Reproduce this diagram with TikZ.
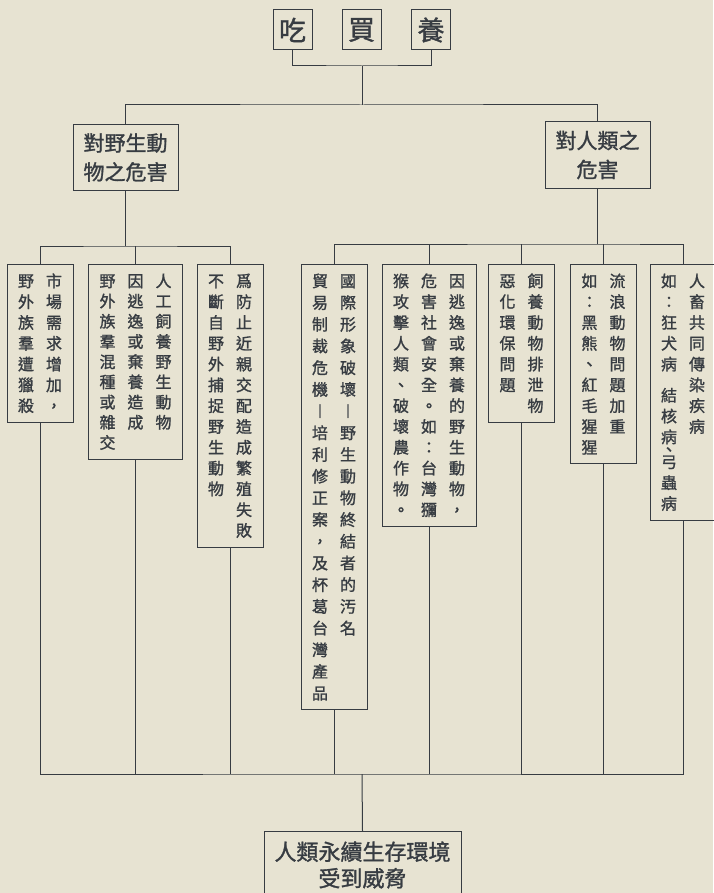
\documentclass[tikz,border=0pt]{standalone}
\usepackage{fontspec}
\newfontfamily\cjk{Noto Sans CJK TC}[FakeBold=1.3]
\definecolor{paper}{RGB}{231,227,210}
\definecolor{ink}{RGB}{55,60,66}

\newdimen\colpitch \colpitch=20.8pt
\def\colhalf{+}\def\colless{-}
\def\colsplit#1{\ifx#1\relax\else
  \ifx#1\colhalf\kern.5\colpitch\relax\else
  \ifx#1\colless\kern-.4\colpitch\relax\else
  \hbox to16pt{\hss\vrule height14pt depth2pt width0pt#1\hss}\fi\fi
  \expandafter\colsplit\fi}
\newcommand\charcol[1]{\vtop{\baselineskip\colpitch\lineskiplimit-100pt\colsplit#1\relax}}
\newcommand\coltwo[2]{\charcol{#2}\hskip12pt\charcol{#1}}
\newcommand\colthree[3]{\charcol{#3}\hskip12pt\charcol{#2}\hskip12pt\charcol{#1}}

\begin{document}
\begin{tikzpicture}
  [x=1pt, y=-1pt, line width=1pt, draw=ink,
    every node/.style={draw=ink, text=ink, line width=1pt},
    topbox/.style={minimum width=39pt, minimum height=40pt, inner sep=0pt,
      font=\cjk\fontsize{27}{30}\selectfont},
    headbox/.style={align=center, inner xsep=10.5pt, inner ysep=9pt,
      font=\cjk\fontsize{21}{29}\selectfont},
    colbox/.style={anchor=north, inner xsep=11pt, inner ysep=8.5pt,
      font=\cjk\fontsize{16}{20}\selectfont},
    endbox/.style={anchor=north, align=center, inner xsep=10.5pt, inner ysep=10pt,
      font=\cjk\fontsize{22}{26.5}\selectfont},
  ]

  \path[use as bounding box, fill=paper] (0,0) rectangle (713,893);

  \node[topbox] (eat) at (292.5,30) {吃};
  \node[topbox] (buy) at (361.5,30) {買};
  \node[topbox] (raise) at (431,30) {養};

  \node[headbox] (animal) at (125.5,157.5) {對野生動\\物之危害};
  \node[headbox] (human) at (597.5,155) {對人類之\\危害};

  \node[colbox] (b1) at (40,264) {\coltwo{市場需求增加，}{野外族羣遭獵殺}};
  \node[colbox] (b2) at (135.5,264) {\colpitch=20.2pt\colthree{人工飼養野生動物}{因逃逸或棄養造成}{野外族羣混種或雜交}};
  \node[colbox] (b3) at (230,264) {\coltwo{爲防止近親交配造成繁殖失敗}{不斷自野外捕捉野生動物}};
  \node[colbox] (h1) at (334,264) {\colpitch=21.7pt\coltwo{國際形象破壞︱野生動物終結者的汚名}{貿易制裁危機︱培利修正案，及杯葛台灣產品}};
  \node[colbox] (h2) at (429,264) {\colthree{因逃逸或棄養的野生動物，}{危害社會安全。如：台灣獼}{猴攻擊人類、破壞農作物。}};
  \node[colbox] (h3) at (521.5,264) {\coltwo{飼養動物排泄物}{惡化環保問題}};
  \node[colbox] (h4) at (603.5,264) {\coltwo{流浪動物問題加重}{如：黑熊、紅毛猩猩}};
  \node[colbox] (h5) at (683,264) {\coltwo{人畜共同傳染疾病}{如：狂犬病\colhalf 結核病\colless 、\colless 弓蟲病}};

  \node[endbox] (threat) at (362.5,831) {人類永續生存環境\\受到威脅};

  \coordinate (topjoin) at (362,66);
  \coordinate (split) at (362,105);
  \coordinate (leftbus) at (125.5,246);
  \coordinate (rightbus) at (597.5,244);
  \coordinate (bottombus) at (362,774);

  \draw (eat.south) |- (topjoin) -| (raise.south);
  \draw (topjoin) -- (split);
  \draw (animal.north) |- (split) -| (human.north);

  \draw (animal.south) -- (leftbus);
  \draw (b1.north) |- (leftbus) -| (b3.north);
  \draw (b2.north) -- (b2.north |- leftbus);

  \draw (human.south) -- (rightbus);
  \draw (h1.north) |- (rightbus) -| (h5.north);
  \foreach \n in {h2,h3,h4}
    \draw (\n.north) -- (\n.north |- rightbus);

  \draw (b1.south) |- (bottombus) -| (h5.south);
  \foreach \n in {b2,b3,h1,h2,h3,h4}
    \draw (\n.south) -- (\n.south |- bottombus);
  \draw (bottombus) -- (threat.north);
\end{tikzpicture}
\end{document}
